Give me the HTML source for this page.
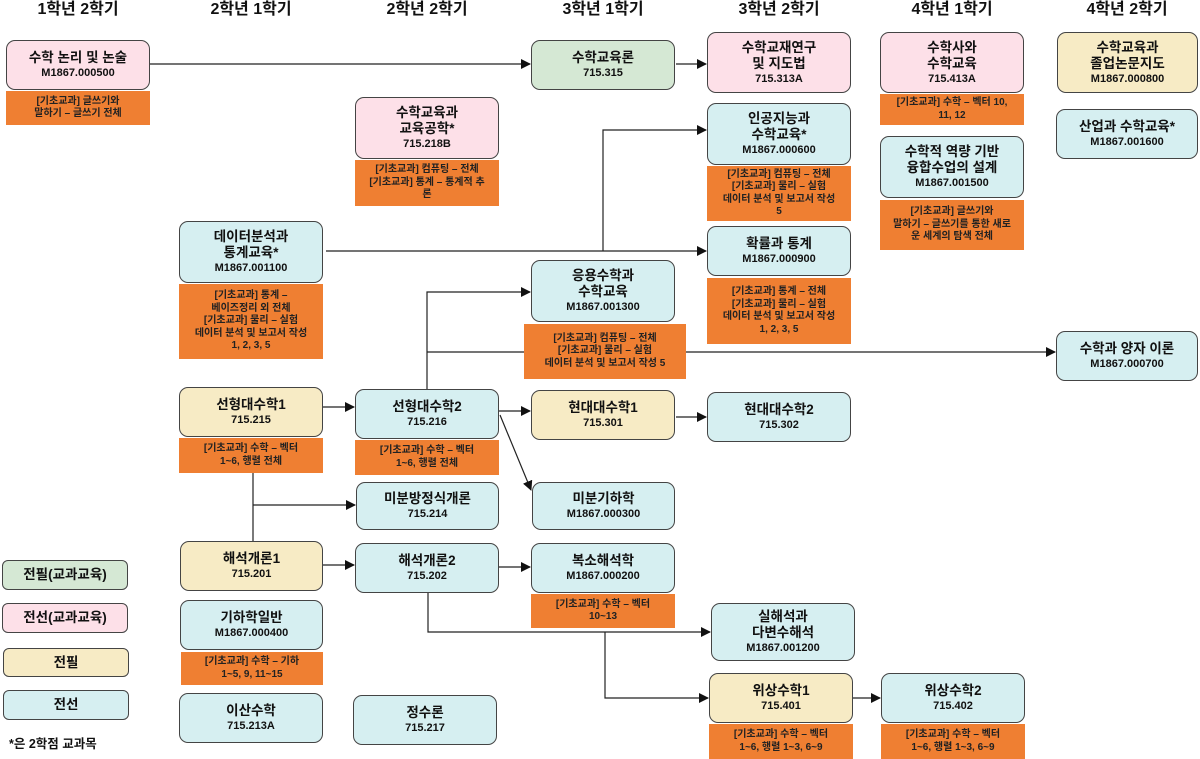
<!DOCTYPE html>
<html><head><meta charset="utf-8"><style>
*{margin:0;padding:0;box-sizing:border-box}
body{width:1200px;height:759px;background:#fff;position:relative;overflow:hidden;font-family:"Liberation Sans","Noto Sans CJK KR",sans-serif;color:#111}
.h{position:absolute;top:0;width:170px;text-align:center;font-weight:bold;font-size:16px;line-height:20px}
.b{position:absolute;border:1.3px solid #444;border-radius:9px;display:flex;flex-direction:column;justify-content:center;align-items:center;text-align:center;font-weight:bold;font-size:13.5px;line-height:16px;z-index:2}
.b small{font-size:11px;line-height:14px}
.o{position:absolute;background:#ef7f32;display:flex;flex-direction:column;justify-content:center;align-items:center;text-align:center;font-size:10px;line-height:12.5px;font-weight:bold;color:#222;z-index:2}
.p{background:#fde0e8}.g{background:#d5e8d4}.y{background:#f7ebc5}.c{background:#d6eff1}
svg{position:absolute;left:0;top:0;z-index:1}
</style></head><body>
<div class="h" style="left:-7px">1학년 2학기</div>
<div class="h" style="left:166px">2학년 1학기</div>
<div class="h" style="left:342px">2학년 2학기</div>
<div class="h" style="left:518px">3학년 1학기</div>
<div class="h" style="left:694px">3학년 2학기</div>
<div class="h" style="left:867px">4학년 1학기</div>
<div class="h" style="left:1042px">4학년 2학기</div>

<svg width="1200" height="759">
<defs><marker id="a" markerWidth="10" markerHeight="10" refX="9" refY="5" orient="auto" markerUnits="userSpaceOnUse"><path d="M0,0L10,5L0,10z" fill="#111"/></marker></defs>
<g stroke="#222" stroke-width="1.2" fill="none">
<path d="M150,64H530" marker-end="url(#a)"/>
<path d="M676,64H706" marker-end="url(#a)"/>
<path d="M326,251H706" marker-end="url(#a)"/>
<path d="M603,251V130H706" marker-end="url(#a)"/>
<path d="M427,389V292H530" marker-end="url(#a)"/>
<path d="M427,352H1055" marker-end="url(#a)"/>
<path d="M323,407H354" marker-end="url(#a)"/>
<path d="M499,411H530" marker-end="url(#a)"/>
<path d="M500,415L531,490" marker-end="url(#a)"/>
<path d="M676,417H706" marker-end="url(#a)"/>
<path d="M253,473V541"/>
<path d="M253,505H355" marker-end="url(#a)"/>
<path d="M323,565H354" marker-end="url(#a)"/>
<path d="M499,567H530" marker-end="url(#a)"/>
<path d="M428,593V632H710" marker-end="url(#a)"/>
<path d="M605,632V698H708" marker-end="url(#a)"/>
<path d="M853,698H880" marker-end="url(#a)"/>
</g></svg>

<div class="b p" style="left:6px;top:40px;width:144px;height:50px">수학 논리 및 논술<small>M1867.000500</small></div>
<div class="o" style="left:6px;top:91px;width:144px;height:34px">[기초교과] 글쓰기와<br>말하기 – 글쓰기 전체</div>
<div class="b g" style="left:531px;top:40px;width:144px;height:50px">수학교육론<small>715.315</small></div>
<div class="b p" style="left:707px;top:32px;width:144px;height:61px">수학교재연구<br>및 지도법<small>715.313A</small></div>
<div class="b p" style="left:880px;top:32px;width:144px;height:61px">수학사와<br>수학교육<small>715.413A</small></div>
<div class="o" style="left:880px;top:94px;width:144px;height:31px">[기초교과] 수학 – 벡터 10,<br>11, 12</div>
<div class="b y" style="left:1057px;top:32px;width:141px;height:61px">수학교육과<br>졸업논문지도<small>M1867.000800</small></div>
<div class="b p" style="left:355px;top:97px;width:144px;height:62px">수학교육과<br>교육공학*<small>715.218B</small></div>
<div class="o" style="left:355px;top:160px;width:144px;height:46px">[기초교과] 컴퓨팅 – 전체<br>[기초교과] 통계 – 통계적 추<br>론</div>
<div class="b c" style="left:707px;top:103px;width:144px;height:62px">인공지능과<br>수학교육*<small>M1867.000600</small></div>
<div class="o" style="left:707px;top:166px;width:144px;height:55px">[기초교과] 컴퓨팅 – 전체<br>[기초교과] 물리 – 실험<br>데이터 분석 및 보고서 작성<br>5</div>
<div class="b c" style="left:1056px;top:109px;width:142px;height:50px">산업과 수학교육*<small>M1867.001600</small></div>
<div class="b c" style="left:880px;top:136px;width:144px;height:62px">수학적 역량 기반<br>융합수업의 설계<small>M1867.001500</small></div>
<div class="o" style="left:880px;top:200px;width:144px;height:50px">[기초교과] 글쓰기와<br>말하기 – 글쓰기를 통한 새로<br>운 세계의 탐색 전체</div>
<div class="b c" style="left:179px;top:221px;width:144px;height:62px">데이터분석과<br>통계교육*<small>M1867.001100</small></div>
<div class="o" style="left:179px;top:284px;width:144px;height:75px">[기초교과] 통계 –<br>베이즈정리 외 전체<br>[기초교과] 물리 – 실험<br>데이터 분석 및 보고서 작성<br>1, 2, 3, 5</div>
<div class="b c" style="left:707px;top:226px;width:144px;height:50px">확률과 통계<small>M1867.000900</small></div>
<div class="o" style="left:707px;top:278px;width:144px;height:66px">[기초교과] 통계 – 전체<br>[기초교과] 물리 – 실험<br>데이터 분석 및 보고서 작성<br>1, 2, 3, 5</div>
<div class="b c" style="left:531px;top:260px;width:144px;height:62px">응용수학과<br>수학교육<small>M1867.001300</small></div>
<div class="o" style="left:524px;top:324px;width:162px;height:55px">[기초교과] 컴퓨팅 – 전체<br>[기초교과] 물리 – 실험<br>데이터 분석 및 보고서 작성 5</div>
<div class="b c" style="left:1056px;top:331px;width:142px;height:50px">수학과 양자 이론<small>M1867.000700</small></div>
<div class="b y" style="left:179px;top:387px;width:144px;height:50px">선형대수학1<small>715.215</small></div>
<div class="o" style="left:179px;top:438px;width:144px;height:35px">[기초교과] 수학 – 벡터<br>1~6, 행렬 전체</div>
<div class="b c" style="left:355px;top:389px;width:144px;height:50px">선형대수학2<small>715.216</small></div>
<div class="o" style="left:355px;top:440px;width:144px;height:35px">[기초교과] 수학 – 벡터<br>1~6, 행렬 전체</div>
<div class="b y" style="left:531px;top:390px;width:144px;height:50px">현대대수학1<small>715.301</small></div>
<div class="b c" style="left:707px;top:392px;width:144px;height:50px">현대대수학2<small>715.302</small></div>
<div class="b c" style="left:356px;top:482px;width:143px;height:48px">미분방정식개론<small>715.214</small></div>
<div class="b c" style="left:532px;top:482px;width:143px;height:48px">미분기하학<small>M1867.000300</small></div>
<div class="b y" style="left:180px;top:541px;width:143px;height:50px">해석개론1<small>715.201</small></div>
<div class="b c" style="left:355px;top:543px;width:144px;height:50px">해석개론2<small>715.202</small></div>
<div class="b c" style="left:531px;top:543px;width:144px;height:50px">복소해석학<small>M1867.000200</small></div>
<div class="o" style="left:531px;top:594px;width:144px;height:34px">[기초교과] 수학 – 벡터<br>10~13</div>
<div class="b c" style="left:180px;top:600px;width:143px;height:50px">기하학일반<small>M1867.000400</small></div>
<div class="o" style="left:181px;top:652px;width:142px;height:33px">[기초교과] 수학 – 기하<br>1~5, 9, 11~15</div>
<div class="b c" style="left:711px;top:603px;width:144px;height:58px">실해석과<br>다변수해석<small>M1867.001200</small></div>
<div class="b y" style="left:709px;top:673px;width:144px;height:50px">위상수학1<small>715.401</small></div>
<div class="o" style="left:709px;top:724px;width:144px;height:35px">[기초교과] 수학 – 벡터<br>1~6, 행렬 1~3, 6~9</div>
<div class="b c" style="left:881px;top:673px;width:144px;height:50px">위상수학2<small>715.402</small></div>
<div class="o" style="left:881px;top:724px;width:144px;height:35px">[기초교과] 수학 – 벡터<br>1~6, 행렬 1~3, 6~9</div>
<div class="b c" style="left:179px;top:693px;width:144px;height:50px">이산수학<small>715.213A</small></div>
<div class="b c" style="left:353px;top:695px;width:144px;height:50px">정수론<small>715.217</small></div>

<div class="b g" style="left:2px;top:560px;width:126px;height:30px;border-radius:6px">전필(교과교육)</div>
<div class="b p" style="left:2px;top:603px;width:126px;height:30px;border-radius:6px">전선(교과교육)</div>
<div class="b y" style="left:3px;top:648px;width:126px;height:29px;border-radius:6px">전필</div>
<div class="b c" style="left:3px;top:690px;width:126px;height:30px;border-radius:6px">전선</div>
<div style="position:absolute;left:9px;top:733px;font-size:12.5px;font-weight:bold">*은 2학점 교과목</div>
</body></html>
